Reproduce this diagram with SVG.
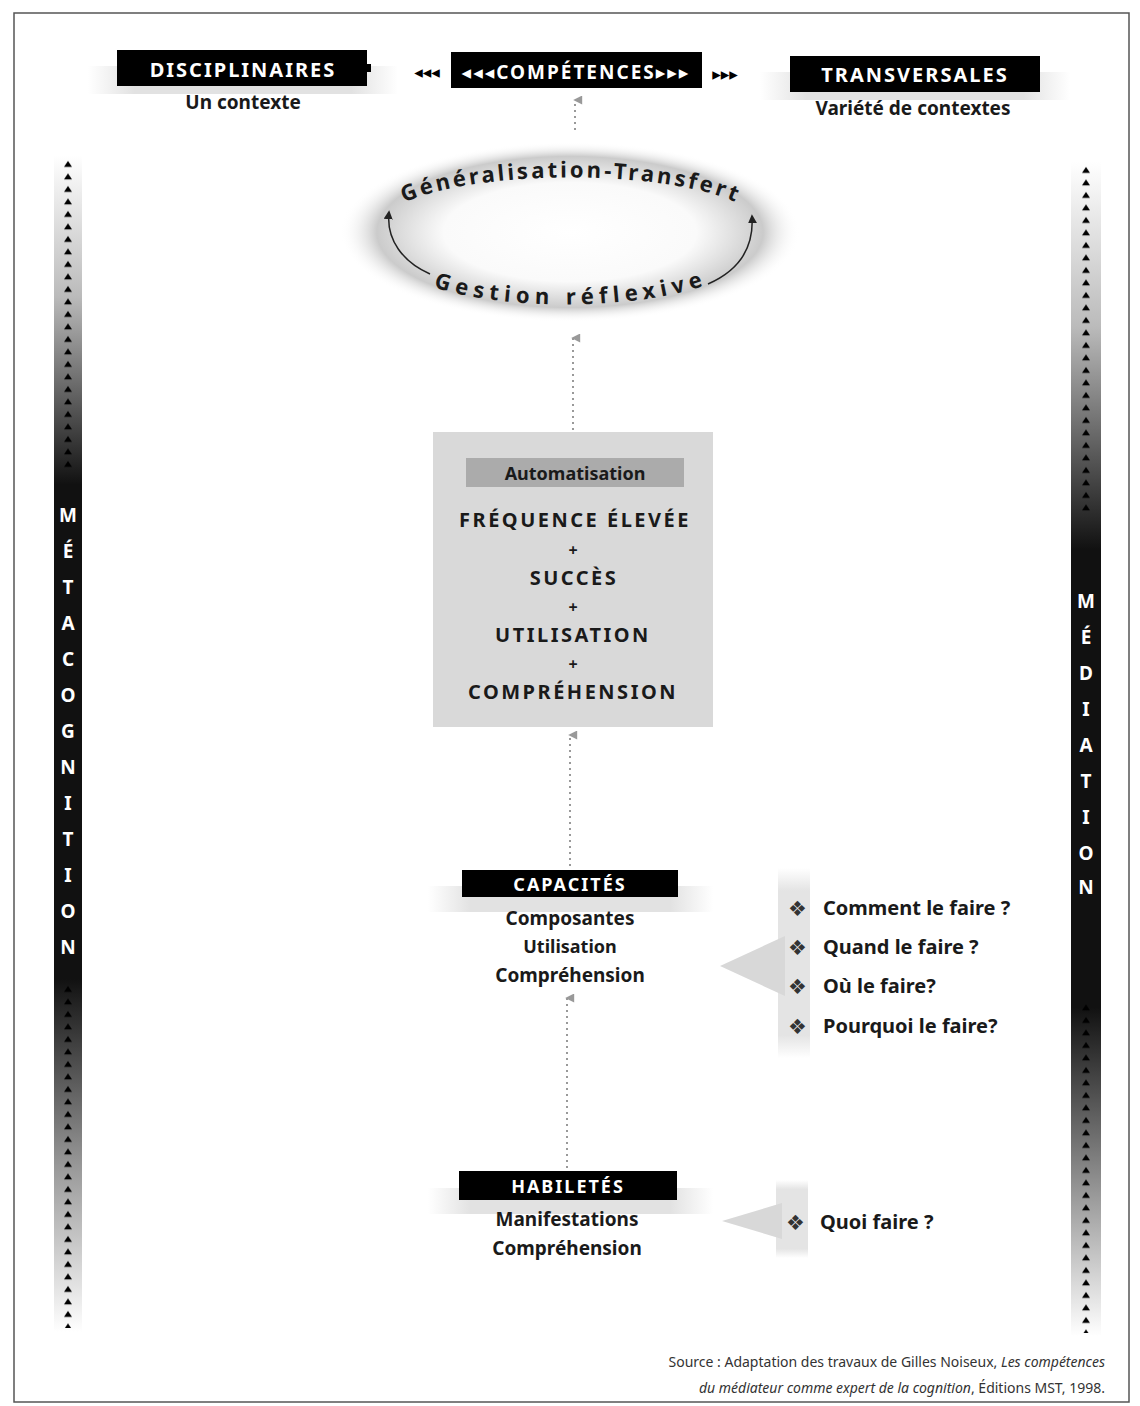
<svg xmlns="http://www.w3.org/2000/svg" width="1140" height="1406" viewBox="0 0 1140 1406">
<defs>
<style>
.lbl{font-family:"Noto Sans","DejaVu Sans",sans-serif;font-weight:bold;fill:#fff;text-anchor:middle;letter-spacing:2px}
.t{font-family:"Noto Sans","DejaVu Sans",sans-serif;font-weight:bold;fill:#1a1a1a;text-anchor:middle}
.q{font-family:"Noto Sans","DejaVu Sans",sans-serif;font-weight:bold;fill:#1a1a1a;font-size:20px}
.dia{font-family:"DejaVu Sans",sans-serif;fill:#333;font-size:21px}
.bar{font-family:"Noto Sans","DejaVu Sans",sans-serif;font-weight:bold;fill:#fff;text-anchor:middle;font-size:19px}
.dot{stroke:#999;stroke-width:2;stroke-dasharray:2 4;fill:none}
.src{font-family:"Noto Sans","DejaVu Sans",sans-serif;fill:#333;font-size:14px;text-anchor:end}
</style>
<linearGradient id="gL" x1="0" y1="0" x2="0" y2="1">
<stop offset="0" stop-color="#fff"/><stop offset="0.12" stop-color="#bbb"/><stop offset="0.28" stop-color="#111"/><stop offset="0.7" stop-color="#111"/><stop offset="0.86" stop-color="#999"/><stop offset="1" stop-color="#fff"/>
</linearGradient>
<linearGradient id="gR" x1="0" y1="0" x2="0" y2="1">
<stop offset="0" stop-color="#fff"/><stop offset="0.14" stop-color="#bbb"/><stop offset="0.33" stop-color="#111"/><stop offset="0.72" stop-color="#111"/><stop offset="0.88" stop-color="#999"/><stop offset="1" stop-color="#fff"/>
</linearGradient>
<linearGradient id="band" x1="0" y1="0" x2="1" y2="0">
<stop offset="0" stop-color="#e2e2e2" stop-opacity="0"/><stop offset="0.15" stop-color="#e2e2e2"/><stop offset="0.85" stop-color="#e2e2e2"/><stop offset="1" stop-color="#e2e2e2" stop-opacity="0"/>
</linearGradient>
<linearGradient id="vband" x1="0" y1="0" x2="0" y2="1">
<stop offset="0" stop-color="#e4e4e4" stop-opacity="0"/><stop offset="0.12" stop-color="#e4e4e4"/><stop offset="0.88" stop-color="#e4e4e4"/><stop offset="1" stop-color="#e4e4e4" stop-opacity="0"/>
</linearGradient>
<radialGradient id="ell" cx="0.5" cy="0.5" r="0.5">
<stop offset="0" stop-color="#fff"/><stop offset="0.55" stop-color="#fafafa"/><stop offset="0.84" stop-color="#cbcbcb"/><stop offset="1" stop-color="#fff" stop-opacity="0"/>
</radialGradient>
<pattern id="triL" x="54" y="158" width="28" height="12.5" patternUnits="userSpaceOnUse">
<polygon points="10,9 18,9 14,3" fill="#000"/>
</pattern>
<pattern id="triR" x="1071" y="164" width="30" height="12.5" patternUnits="userSpaceOnUse">
<polygon points="11,9 19,9 15,3" fill="#000"/>
</pattern>
<marker id="ah" viewBox="0 0 10 10" refX="5" refY="2" markerWidth="9" markerHeight="10" orient="auto-start-reverse" markerUnits="userSpaceOnUse">
<polygon points="0,10 5,0 10,10" fill="#999"/>
</marker>
<marker id="ahk" viewBox="0 0 10 10" refX="8" refY="5" markerWidth="9" markerHeight="9" orient="auto" markerUnits="userSpaceOnUse">
<polygon points="0,0 10,5 0,10" fill="#222"/>
</marker>
</defs>
<rect width="1140" height="1406" fill="#fff"/>
<rect x="14" y="13" width="1115" height="1389" fill="none" stroke="#555" stroke-width="1.5"/>

<g id="metacognition">
<rect x="54" y="155" width="28" height="1177" fill="url(#gL)"/>
<rect x="54" y="158" width="28" height="312" fill="url(#triL)"/>
<rect x="54" y="983" width="28" height="345" fill="url(#triL)"/>
<text class="bar" x="68" y="522">M</text><text class="bar" x="68" y="558">É</text><text class="bar" x="68" y="594">T</text><text class="bar" x="68" y="630">A</text><text class="bar" x="68" y="666">C</text><text class="bar" x="68" y="702">O</text><text class="bar" x="68" y="738">G</text><text class="bar" x="68" y="774">N</text><text class="bar" x="68" y="810">I</text><text class="bar" x="68" y="846">T</text><text class="bar" x="68" y="882">I</text><text class="bar" x="68" y="918">O</text><text class="bar" x="68" y="954">N</text>
</g>

<g id="mediation">
<rect x="1071" y="162" width="30" height="1174" fill="url(#gR)"/>
<rect x="1071" y="164" width="30" height="350" fill="url(#triR)"/>
<rect x="1071" y="1000" width="30" height="333" fill="url(#triR)"/>
<text class="bar" x="1086" y="608">M</text><text class="bar" x="1086" y="644">É</text><text class="bar" x="1086" y="680">D</text><text class="bar" x="1086" y="716">I</text><text class="bar" x="1086" y="752">A</text><text class="bar" x="1086" y="788">T</text><text class="bar" x="1086" y="824">I</text><text class="bar" x="1086" y="860">O</text><text class="bar" x="1086" y="894">N</text>
</g>

<g id="disciplinaires">
<rect x="88" y="66" width="310" height="28" fill="url(#band)"/>
<rect x="117" y="50" width="250" height="36" fill="#000"/>
<rect x="367" y="64" width="4" height="8" fill="#000"/>
<text class="lbl" x="243" y="77" font-size="20">DISCIPLINAIRES</text>
<text class="t" x="243" y="109" font-size="19">Un contexte</text>
</g>

<g id="competences">
<text x="427" y="78" font-family="DejaVu Sans,sans-serif" font-size="17" text-anchor="middle" fill="#000">◂◂◂</text>
<rect x="451" y="52" width="251" height="36" fill="#000"/>
<text class="lbl" x="576" y="79" font-size="19" letter-spacing="1">◂◂◂COMPÉTENCES▸▸▸</text>
<text x="725" y="80" font-family="DejaVu Sans,sans-serif" font-size="17" text-anchor="middle" fill="#000">▸▸▸</text>
</g>

<g id="transversales">
<rect x="760" y="72" width="310" height="28" fill="url(#band)"/>
<rect x="790" y="56" width="250" height="36" fill="#000"/>
<text class="lbl" x="915" y="82" font-size="20">TRANSVERSALES</text>
<text class="t" x="913" y="115" font-size="19">Variété de contextes</text>
</g>

<g id="cycle">
<ellipse cx="570" cy="232" rx="230" ry="90" fill="url(#ell)"/>
<path id="arcTop" d="M 382,218 C 430,164 710,164 760,218" fill="none"/>
<path id="arcBot" d="M 424,283 C 490,312 650,312 718,280" fill="none"/>
<text class="t" font-size="22" letter-spacing="3"><textPath href="#arcTop" startOffset="50%">Généralisation-Transfert</textPath></text>
<text class="t" font-size="22" letter-spacing="5.5"><textPath href="#arcBot" startOffset="50%">Gestion réflexive</textPath></text>
<path d="M 430,274 C 403,262 386,240 389,212" fill="none" stroke="#222" stroke-width="1.5" marker-end="url(#ahk)"/>
<path d="M 708,284 C 740,270 754,246 752,216" fill="none" stroke="#222" stroke-width="1.5" marker-end="url(#ahk)"/>
</g>

<g id="automatisation">
<rect x="433" y="432" width="280" height="295" fill="#d9d9d9"/>
<rect x="466" y="458" width="218" height="29" fill="#ababab"/>
<text class="t" x="575" y="480" font-size="18">Automatisation</text>
<text class="t" x="575" y="527" font-size="20" letter-spacing="2.5">FRÉQUENCE ÉLEVÉE</text>
<text class="t" x="573" y="556" font-size="16">+</text>
<text class="t" x="574" y="585" font-size="20" letter-spacing="2.5">SUCCÈS</text>
<text class="t" x="573" y="613" font-size="16">+</text>
<text class="t" x="573" y="642" font-size="20" letter-spacing="2.5">UTILISATION</text>
<text class="t" x="573" y="670" font-size="16">+</text>
<text class="t" x="573" y="699" font-size="20" letter-spacing="2.5">COMPRÉHENSION</text>
</g>

<g id="capacites">
<rect x="428" y="886" width="285" height="26" fill="url(#band)"/>
<rect x="462" y="870" width="216" height="27" fill="#000"/>
<text class="lbl" x="570" y="891" font-size="18">CAPACITÉS</text>
<text class="t" x="570" y="925" font-size="19">Composantes</text>
<text class="t" x="570" y="953" font-size="18">Utilisation</text>
<text class="t" x="570" y="982" font-size="19">Compréhension</text>
</g>

<g id="habiletes">
<rect x="428" y="1188" width="285" height="26" fill="url(#band)"/>
<rect x="459" y="1171" width="218" height="29" fill="#000"/>
<text class="lbl" x="568" y="1193" font-size="18">HABILETÉS</text>
<text class="t" x="567" y="1226" font-size="19">Manifestations</text>
<text class="t" x="567" y="1255" font-size="19">Compréhension</text>
</g>

<g id="questions-capacites">
<rect x="778" y="868" width="32" height="190" fill="url(#vband)"/>
<polygon points="720,966 785,936 785,996" fill="#d8d8d8"/>
<text class="dia" x="788" y="916">❖</text><text class="q" x="823" y="915">Comment le faire ?</text>
<text class="dia" x="788" y="955">❖</text><text class="q" x="823" y="954">Quand le faire ?</text>
<text class="dia" x="788" y="994">❖</text><text class="q" x="823" y="993">Où le faire?</text>
<text class="dia" x="788" y="1034">❖</text><text class="q" x="823" y="1033">Pourquoi le faire?</text>
</g>

<g id="questions-habiletes">
<rect x="776" y="1180" width="32" height="78" fill="url(#vband)"/>
<polygon points="722,1221 782,1203 782,1239" fill="#d8d8d8"/>
<text class="dia" x="786" y="1230">❖</text><text class="q" x="820" y="1229">Quoi faire ?</text>
</g>

<g id="connectors">
<path class="dot" d="M 575,130 L 575,100" marker-end="url(#ah)"/>
<path class="dot" d="M 573,430 L 573,338" marker-end="url(#ah)"/>
<path class="dot" d="M 570,866 L 570,735" marker-end="url(#ah)"/>
<path class="dot" d="M 567,1168 L 567,998" marker-end="url(#ah)"/>
</g>

<g id="source">
<text class="src" x="1105" y="1367">Source : Adaptation des travaux de Gilles Noiseux, <tspan font-style="italic">Les compétences</tspan></text>
<text class="src" x="1105" y="1393"><tspan font-style="italic">du médiateur comme expert de la cognition</tspan>, Éditions MST, 1998.</text>
</g>
</svg>
